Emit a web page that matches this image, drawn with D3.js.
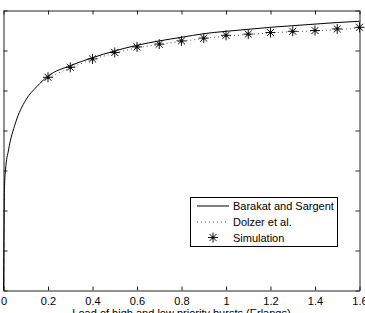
<!DOCTYPE html>
<html>
<head>
<meta charset="utf-8">
<script src="https://cdn.jsdelivr.net/npm/d3@7"></script>
<style>
  html, body { margin: 0; padding: 0; background: #fff; }
  svg { display: block; font-family: "Liberation Sans", Arial, sans-serif; }
</style>
</head>
<body>
<div id="chart"></div>
<script>
// Barakat and Sargent (analytic curve)
const bsLoad = [0, 0.0045, 0.009, 0.0225, 0.054, 0.1, 0.15, 0.2, 0.3, 0.4, 0.5, 0.6, 0.7, 0.8, 0.9, 1.0, 1.1, 1.2, 1.3, 1.4, 1.5, 1.6];
const bsValue = [0, 2.59, 3.01, 3.51, 4.19, 4.76, 5.1, 5.36, 5.62, 5.82, 5.99, 6.13, 6.24, 6.33, 6.42, 6.48, 6.53, 6.58, 6.62, 6.66, 6.70, 6.73];

// Dolzer et al. and simulation, sampled at the same loads
const simLoad = [0.2, 0.3, 0.4, 0.5, 0.6, 0.7, 0.8, 0.9, 1.0, 1.1, 1.2, 1.3, 1.4, 1.5, 1.6];
const dolzerValue = [5.32, 5.57, 5.78, 5.94, 6.07, 6.15, 6.23, 6.30, 6.36, 6.40, 6.44, 6.47, 6.49, 6.52, 6.56];
const simValue = [5.33, 5.58, 5.79, 5.95, 6.09, 6.16, 6.24, 6.31, 6.38, 6.41, 6.45, 6.48, 6.50, 6.54, 6.58];

const xTicks = [0, 0.2, 0.4, 0.6, 0.8, 1, 1.2, 1.4, 1.6];
const yTicks = [0, 1, 2, 3, 4, 5, 6, 7];
const legendLabels = ['Barakat and Sargent', 'Dolzer et al.', 'Simulation'];

const W = 365, H = 313;
const margin = { top: 10.5, right: 5.5, bottom: 22.5, left: 3.5 };

const svg = d3.select('#chart').append('svg').attr('width', W).attr('height', H);

const x = d3.scaleLinear().domain([0, 1.6]).range([margin.left, W - margin.right]);
const y = d3.scaleLinear().domain([0, 7]).range([H - margin.bottom, margin.top]);

const axisColor = '#222';

// Axes with inward ticks (box style)
const axBottom = svg.append('g')
  .attr('transform', `translate(0,${H - margin.bottom})`)
  .call(d3.axisBottom(x).tickValues(xTicks).tickSizeInner(-4).tickSizeOuter(0).tickPadding(7)
    .tickFormat(d => d3.format('')(d)));
svg.append('g')
  .attr('transform', `translate(0,${margin.top})`)
  .call(d3.axisTop(x).tickValues(xTicks).tickSizeInner(-4).tickSizeOuter(0).tickFormat(''));
svg.append('g')
  .attr('transform', `translate(${margin.left},0)`)
  .call(d3.axisLeft(y).tickValues(yTicks).tickSizeInner(-4).tickSizeOuter(0).tickFormat(''));
svg.append('g')
  .attr('transform', `translate(${W - margin.right},0)`)
  .call(d3.axisRight(y).tickValues(yTicks).tickSizeInner(-4).tickSizeOuter(0).tickFormat(''));

svg.selectAll('.domain, .tick line').attr('stroke', axisColor).attr('stroke-width', 1);
axBottom.selectAll('text').attr('fill', '#000').attr('font-size', '11px')
  .attr('font-family', '"Liberation Sans", Arial, sans-serif');

// Axis label (partly cut off at bottom edge, as in the source figure)
svg.append('text')
  .attr('x', (x(0) + x(1.6)) / 2)
  .attr('y', 317)
  .attr('text-anchor', 'middle')
  .attr('font-size', '11px')
  .attr('fill', '#000')
  .text('Load of high and low priority bursts (Erlangs)');

// Lines
const bsLine = d3.line().x((d, i) => x(bsLoad[i])).y(d => y(d)).curve(d3.curveMonotoneX);
svg.append('path')
  .datum(bsValue)
  .attr('d', bsLine)
  .attr('fill', 'none')
  .attr('stroke', '#000')
  .attr('stroke-width', 1);

const dLine = d3.line().x((d, i) => x(simLoad[i])).y(d => y(d));
svg.append('path')
  .datum(dolzerValue)
  .attr('d', dLine)
  .attr('fill', 'none')
  .attr('stroke', '#555')
  .attr('stroke-width', 1)
  .attr('stroke-dasharray', '1,3');

// Asterisk marker
function asterisk(g, cx, cy, r) {
  const a = r * Math.SQRT1_2;
  const p = `M${cx - r},${cy}L${cx + r},${cy}M${cx},${cy - r}L${cx},${cy + r}` +
    `M${cx - a},${cy - a}L${cx + a},${cy + a}M${cx - a},${cy + a}L${cx + a},${cy - a}`;
  g.append('path').attr('d', p).attr('stroke', '#111').attr('stroke-width', 1).attr('fill', 'none');
  g.append('circle').attr('cx', cx).attr('cy', cy).attr('r', 1.6).attr('fill', '#111');
}

const marks = svg.append('g');
simValue.forEach((v, i) => asterisk(marks, x(simLoad[i]), y(v), 5));

// Legend
const lg = svg.append('g');
lg.append('rect')
  .attr('x', 190.5).attr('y', 197.5).attr('width', 147).attr('height', 49)
  .attr('fill', '#fff').attr('stroke', '#000').attr('stroke-width', 1);
const rowY = [206, 222, 237.5];
lg.append('line').attr('x1', 197).attr('x2', 229).attr('y1', rowY[0]).attr('y2', rowY[0])
  .attr('stroke', '#000').attr('stroke-width', 1);
lg.append('line').attr('x1', 197).attr('x2', 229).attr('y1', rowY[1]).attr('y2', rowY[1])
  .attr('stroke', '#555').attr('stroke-width', 1).attr('stroke-dasharray', '1,3');
asterisk(lg, 213, rowY[2], 5);
legendLabels.forEach((t, i) => {
  lg.append('text')
    .attr('x', 233).attr('y', rowY[i] + 4)
    .attr('font-size', '11px').attr('fill', '#000')
    .text(t);
});
</script>
</body>
</html>
